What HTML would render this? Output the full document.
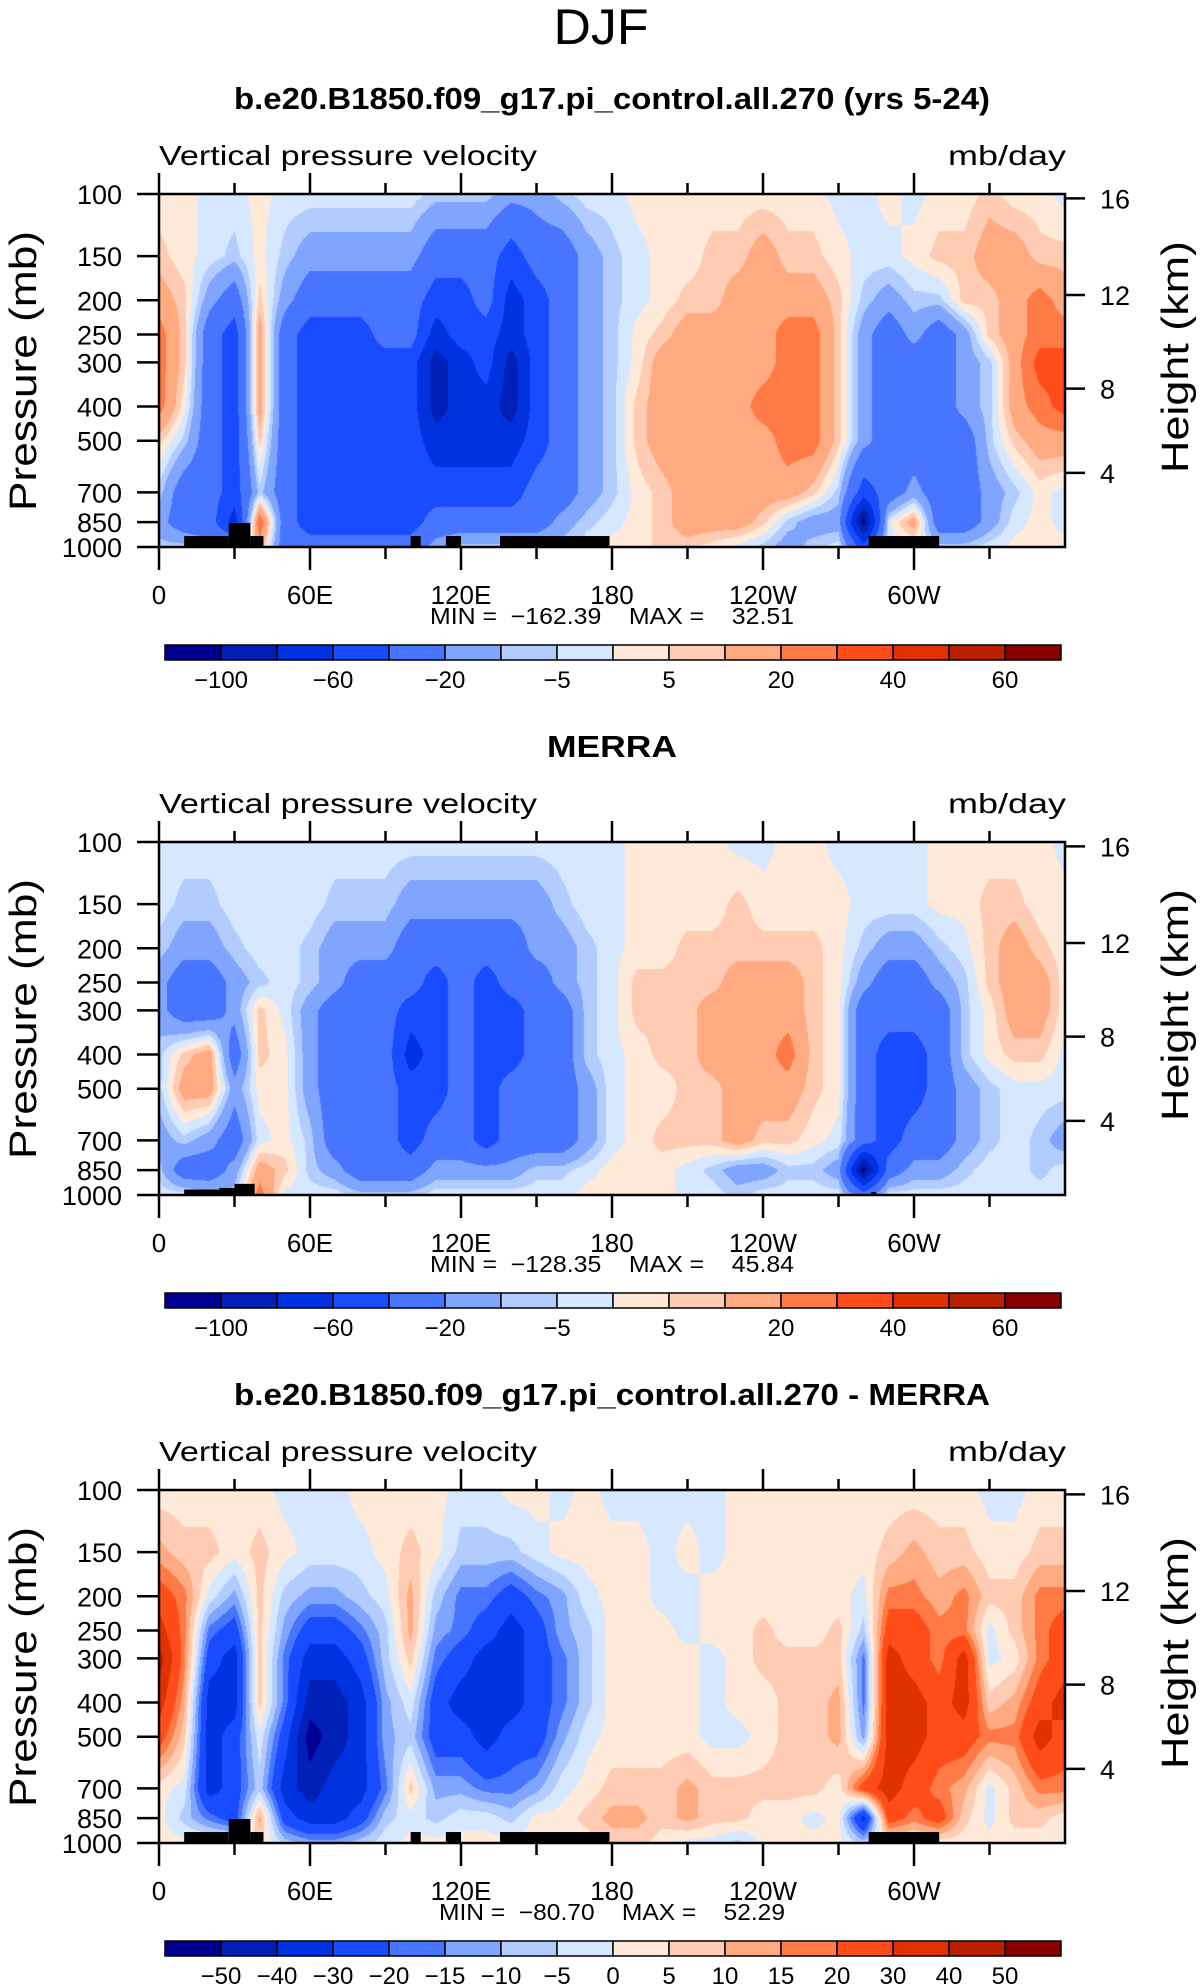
<!DOCTYPE html>
<html><head><meta charset="utf-8">
<style>
html,body{margin:0;padding:0;background:#fff;}
#wrap{position:relative;width:1203px;height:1987px;overflow:hidden;}
canvas{position:absolute;}
svg{position:absolute;left:0;top:0;}
text{font-family:"Liberation Sans",sans-serif;fill:#000;}
</style></head>
<body>
<div id="wrap">
<svg id="svg" width="1203" height="1987" viewBox="0 0 1203 1987">
<text x="601" y="44" font-size="50" text-anchor="middle" textLength="95" lengthAdjust="spacingAndGlyphs" font-weight="300">DJF</text>
</svg>
</div>
<script>
// ---------- data ----------
const levels = [100,150,200,250,300,400,500,700,850,1000];
const lons = [0,10,20,30,40,50,60,70,80,90,100,110,120,130,140,150,160,170,180,190,200,210,220,230,240,250,260,270,280,290,300,310,320,330,340,350,360];
const xTickLons = [0,60,120,180,240,300];
const xTickLabels = ["0","60E","120E","180","120W","60W"];
const heightTicksKm = [4,8,12,16];
const binsAbs = [-100,-80,-60,-40,-20,-10,-5,0,5,10,20,30,40,50,60];
const binsDiff = [-50,-40,-30,-20,-15,-10,-5,0,5,10,15,20,30,40,50];
const colors = ["#000090","#0020b8","#0032e0","#1a4cff","#4775ff","#80a5ff","#b3ccff","#d5e8ff","#ffe9d9","#ffcbb3","#ffaa80","#ff7a45","#ff4d1a","#e03200","#b82000","#8a0000"];

// Model (panel 1)
const m100 = [2,2,-2,-2,2,-2,-2,-2,-2,-2,-2,-7,-7,-7,-15,-15,-7,-2,-2,2,2,2,2,2,2,2,2,-2,-2,2,-2,2,2,7,2,2,-2];
const m150 = [7,2,-2,-7,2,-7,-15,-15,-15,-15,-15,-30,-30,-30,-50,-30,-30,-15,-7,-2,2,2,7,7,15,7,7,2,-2,-2,2,7,7,15,15,7,7];
const m200 = [15,7,-15,-30,7,-15,-30,-30,-30,-30,-30,-50,-50,-30,-70,-50,-30,-15,-7,-2,2,7,7,15,15,15,15,7,-7,-15,-7,-7,7,7,15,25,15];
const m250 = [25,7,-30,-50,15,-30,-50,-50,-50,-30,-30,-70,-50,-50,-70,-50,-30,-15,-7,2,7,15,15,15,15,25,25,7,-15,-30,-15,-30,-15,7,15,25,25];
const m300 = [25,7,-30,-50,15,-30,-50,-50,-50,-50,-50,-90,-70,-50,-90,-50,-30,-15,-7,2,15,15,15,15,15,25,25,7,-15,-30,-30,-30,-15,-7,15,35,35];
const m400 = [25,2,-30,-50,15,-30,-50,-50,-50,-50,-50,-90,-70,-70,-90,-50,-30,-15,-7,7,15,15,15,15,25,25,25,7,-15,-30,-30,-30,-15,-7,15,25,35];
const m500 = [7,-7,-30,-50,7,-30,-50,-50,-50,-50,-50,-70,-70,-70,-70,-50,-30,-15,-7,7,15,15,15,15,15,25,25,7,-15,-30,-30,-30,-30,-7,7,15,15];
const m700 = [-7,-30,-30,-50,-7,-30,-50,-50,-50,-50,-50,-50,-50,-50,-50,-30,-30,-15,-7,2,7,15,15,15,15,15,7,-7,-50,-30,-15,-30,-30,-15,-7,2,-2];
const m850 = [-15,-30,-30,-70,30,-30,-50,-50,-50,-50,-50,-30,-30,-30,-30,-30,-15,-7,-2,2,7,15,15,15,7,-7,-15,-15,-110,-2,15,-30,-30,-15,-2,2,-2];
const m1000 = [-7,-7,-15,-15,15,-30,-30,-30,-30,-30,-30,-15,-7,-7,-7,-7,-7,-2,2,2,7,7,2,-2,-7,-15,-7,-2,-50,-2,-2,-7,-7,-2,2,2,2];
const modelRows = [m100,m150,m200,m250,m300,m400,m500,m700,m850,m1000];

// MERRA (panel 2)
const r100 = [-2,-2,-2,-2,-2,-2,-2,-2,-2,-2,-2,-2,-2,-2,-2,-2,-2,-2,-2,2,2,2,2,-2,-2,2,2,-2,-2,-2,-2,2,2,2,2,2,-2];
const r150 = [-2,-7,-7,-2,-2,-2,-2,-7,-7,-7,-15,-15,-15,-15,-15,-15,-7,-2,-2,2,2,2,2,7,2,2,2,2,-2,-2,-2,2,2,7,7,2,2];
const r200 = [-7,-15,-15,-7,-2,-2,-7,-15,-15,-15,-30,-30,-30,-30,-30,-15,-15,-7,-2,2,2,7,7,7,7,7,7,2,-7,-15,-15,-7,-2,7,15,7,2];
const r250 = [-15,-30,-30,-15,-7,-2,-7,-15,-30,-30,-30,-50,-30,-50,-30,-30,-15,-7,-2,7,7,7,7,15,15,15,7,2,-15,-30,-30,-15,-7,7,15,15,2];
const r300 = [-15,-30,-30,-15,7,-2,-15,-30,-30,-30,-50,-50,-30,-50,-50,-30,-30,-7,-2,7,7,7,15,15,15,15,7,2,-30,-30,-30,-30,-7,2,15,15,2];
const r400 = [-7,7,15,-30,7,2,-15,-30,-30,-30,-70,-50,-30,-50,-50,-30,-30,-7,-2,2,7,7,15,15,15,25,7,2,-30,-50,-50,-30,-7,2,7,7,-2];
const r500 = [-7,15,15,-15,2,2,-15,-30,-30,-30,-50,-50,-30,-50,-30,-30,-30,-15,-2,2,2,7,7,15,15,15,7,2,-30,-50,-50,-30,-15,-7,-2,-2,-2];
const r700 = [-15,-7,-15,-30,-2,2,-7,-30,-30,-30,-50,-30,-30,-50,-30,-30,-30,-15,-2,2,7,7,7,15,7,7,2,-2,-30,-50,-30,-30,-15,-7,-2,-7,-15];
const r850 = [-7,-30,-30,-15,15,7,-7,-15,-30,-30,-30,-15,-15,-15,-15,-7,-7,-2,2,2,2,-2,-7,-15,-15,-7,-7,-15,-110,-30,-15,-15,-7,-2,-2,-7,-2];
const r1000 = [-2,-2,-7,-7,25,-2,-2,-2,-7,-7,-7,-2,-2,-2,-2,-2,-2,2,2,2,2,-2,-2,-7,-2,-2,-2,-2,-30,-2,-2,-2,-2,-2,-2,-2,-2];
const merraRows = [r100,r150,r200,r250,r300,r400,r500,r700,r850,r1000];

// Difference (panel 3)
const d100 = [2,2,2,2,2,-2,-2,-2,2,2,2,2,-2,-2,2,2,-2,2,-2,-2,-2,-2,-2,2,2,2,2,2,2,2,2,2,2,-2,-2,2,2];
const d150 = [12,7,7,2,7,2,-2,-2,-2,2,7,2,-7,-7,-7,-2,2,2,2,2,-2,2,-2,2,2,2,2,2,2,7,12,7,7,2,2,7,7];
const d200 = [25,17,-2,-12,7,-7,-12,-12,-7,-2,12,-7,-17,-17,-25,-17,-12,-2,2,2,-2,-2,2,2,2,2,2,2,-2,17,17,12,17,7,7,17,17];
const d250 = [35,17,-17,-25,7,-12,-25,-25,-17,-7,12,-12,-17,-25,-35,-25,-12,-7,2,2,2,-2,2,2,7,2,2,7,-7,25,25,17,17,-2,7,17,25];
const d300 = [45,17,-25,-35,7,-17,-35,-35,-25,-7,7,-17,-25,-35,-35,-25,-17,-7,2,2,2,2,-2,2,7,7,7,7,-17,35,25,17,35,-2,2,17,25];
const d400 = [35,12,-35,-35,7,-17,-45,-45,-35,-12,-2,-25,-35,-35,-35,-25,-17,-7,2,2,2,2,-2,2,2,7,7,12,-17,35,35,25,35,7,12,25,35];
const d500 = [25,7,-35,-25,-2,-25,-55,-45,-35,-12,-7,-25,-25,-35,-25,-25,-12,-2,2,2,2,2,-2,-2,2,7,7,12,-12,35,35,25,25,17,17,35,25];
const d700 = [2,-2,-35,-25,-7,-35,-45,-35,-35,-17,7,-12,-12,-17,-17,-12,-2,2,7,7,7,12,7,7,7,7,7,2,25,35,25,17,12,-2,7,17,17];
const d850 = [2,-7,-17,-25,12,-25,-35,-35,-25,-7,-2,-7,-2,-2,-7,2,2,7,12,12,7,12,7,7,2,2,-2,2,-35,25,17,25,7,-2,7,7,2];
const d1000 = [2,2,2,2,7,-7,-12,-12,-7,-2,2,2,2,2,2,2,2,2,7,7,2,-2,-2,-7,2,2,2,2,-7,2,2,2,2,2,2,2,2];
const diffRows = [d100,d150,d200,d250,d300,d400,d500,d700,d850,d1000];

// Topography blocks: [lonStart, lonEnd, topPressure]
const topoModel = [[10,27.7,931],[27.7,36.3,855],[36.3,41.5,931],[100,104,931],[114,120,931],[135.5,179,931],[282,310,931]];
const topoMerra = [[10,24,965],[24,30,955],[30,36,930],[36,38,930],[283,285,980]];

const mins = ["MIN =  \u2212162.39    MAX =    32.51","MIN =  \u2212128.35    MAX =    45.84","MIN =  \u221280.70    MAX =    52.29"];

// ---------- geometry ----------
const PL = 159, PR = 1065, PT = 194, PB = 547;
const NS = "http://www.w3.org/2000/svg";
const svg = document.getElementById('svg');
const wrap = document.getElementById('wrap');
function xOf(lon){ return PL + (PR-PL)*lon/360; }
function yOf(p, dy){ return dy + PT + (PB-PT)*Math.log(p/100)/Math.log(10); }
function pOfKm(z){ const m=z*1000; return m<=11000 ? 1013.25*Math.pow(1-2.25577e-5*m,5.25588) : 226.32*Math.exp(-(m-11000)/6341.6); }

function mk(tag, attrs, parent){
  const e = document.createElementNS(NS, tag);
  for (const k in attrs) e.setAttribute(k, attrs[k]);
  (parent||svg).appendChild(e);
  return e;
}
function txt(s, attrs, name){
  const e = mk('text', attrs);
  e.textContent = s;
  
  
  return e;
}

function sample(rows, lon, p){
  let fx = lon/10; let i = Math.min(35, Math.floor(fx)); let tx = fx - i;
  const lp = Math.log(p);
  let j = 0;
  while (j < levels.length-2 && Math.log(levels[j+1]) < lp) j++;
  const l0 = Math.log(levels[j]), l1 = Math.log(levels[j+1]);
  let ty = (lp - l0)/(l1 - l0); ty = Math.max(0, Math.min(1, ty));
  const a = rows[j][i]*(1-tx) + rows[j][i+1]*tx;
  const b = rows[j+1][i]*(1-tx) + rows[j+1][i+1]*tx;
  return a*(1-ty) + b*ty;
}
function classOf(v, bins){ let c=0; while (c<bins.length && v>=bins[c]) c++; return c; }
function hexRgb(h){ return [parseInt(h.substr(1,2),16),parseInt(h.substr(3,2),16),parseInt(h.substr(5,2),16)]; }
const rgb = colors.map(hexRgb);

function drawPanel(k, dy, rows, bins, topo, title, titleLen, allLabels){
  const w = PR-PL, h = PB-PT;
  const cv = document.createElement('canvas');
  cv.width = w; cv.height = h;
  cv.style.left = PL+'px'; cv.style.top = (PT+dy)+'px';
  
  
  wrap.insertBefore(cv, svg);
  const ctx = cv.getContext('2d');
  const img = ctx.createImageData(w, h);
  for (let y=0; y<h; y++){
    const p = 100*Math.pow(10, (y+0.5)/h);
    for (let x=0; x<w; x++){
      const lon = 360*(x+0.5)/w;
      const c = rgb[classOf(sample(rows, lon, p), bins)];
      const o = (y*w+x)*4;
      img.data[o]=c[0]; img.data[o+1]=c[1]; img.data[o+2]=c[2]; img.data[o+3]=255;
    }
  }
  ctx.putImageData(img, 0, 0);
  for (const t of topo){
    const r = mk('rect', {x:xOf(t[0]), y:yOf(t[2],dy), width:xOf(t[1])-xOf(t[0]), height:yOf(1000,dy)-yOf(t[2],dy), fill:'#000'});
    
    
  }
  const fr = mk('rect', {x:PL, y:PT+dy, width:PR-PL, height:PB-PT, fill:'none', stroke:'#000', 'stroke-width':2.5});
  
  
  for (let lon=0; lon<360; lon+=30){
    const major = lon%60===0;
    const x = xOf(lon);
    mk('line', {x1:x, x2:x, y1:PB+dy, y2:PB+dy+(major?23:12), stroke:'#000','stroke-width':2.5});
    mk('line', {x1:x, x2:x, y1:PT+dy, y2:PT+dy-(major?21:11), stroke:'#000','stroke-width':2.5});
  }
  xTickLons.forEach((lon,i)=>{
    txt(xTickLabels[i], {x:xOf(lon), y:PB+dy+57, 'font-size':26, 'text-anchor':'middle'}, 'x-tick-label');
  });
  levels.forEach(p=>{
    const y = yOf(p,dy);
    mk('line', {x1:PL-22, x2:PL, y1:y, y2:y, stroke:'#000','stroke-width':2.5});
    txt(String(p), {x:122, y:y+10, 'font-size':27, 'text-anchor':'end'}, 'y-tick-label');
  });
  heightTicksKm.forEach(z=>{
    const y = yOf(pOfKm(z),dy);
    mk('line', {x1:PR, x2:PR+20, y1:y, y2:y, stroke:'#000','stroke-width':2.5});
    txt(String(z), {x:1100, y:y+10, 'font-size':27, 'text-anchor':'start'}, 'height-tick-label');
  });
  txt('Pressure  (mb)', {x:0, y:0, 'font-size':38, 'text-anchor':'middle', transform:'translate(36,'+(371+dy)+') rotate(-90)', textLength:280, lengthAdjust:'spacingAndGlyphs'}, 'y-axis-title');
  txt('Height  (km)', {x:0, y:0, 'font-size':38, 'text-anchor':'middle', transform:'translate(1188,'+(357+dy)+') rotate(-90)', textLength:232, lengthAdjust:'spacingAndGlyphs'}, 'right-axis-title');
  txt('Vertical pressure velocity', {x:159, y:165+dy, 'font-size':28, textLength:378, lengthAdjust:'spacingAndGlyphs'}, 'variable-label');
  txt('mb/day', {x:1066, y:165+dy, 'font-size':28, 'text-anchor':'end', textLength:118, lengthAdjust:'spacingAndGlyphs'}, 'units-label');
  txt(title, {x:612, y:109+dy, 'font-size':31, 'font-weight':'bold', 'text-anchor':'middle', textLength:titleLen, lengthAdjust:'spacingAndGlyphs'}, 'panel-title');
  txt(mins[k], {x:612, y:624+dy, 'font-size':23, 'text-anchor':'middle', textLength:(k===2?346:364), lengthAdjust:'spacingAndGlyphs', style:'white-space:pre'}, 'min-max-label');
  const cbL=165, cbR=1061, cbT=645+dy, cbH=15, bw=(cbR-cbL)/16;
  colors.forEach((c,i)=>{
    const r = mk('rect', {x:cbL+i*bw, y:cbT, width:bw, height:cbH, fill:c, stroke:'#000','stroke-width':1.5});
    
    
  });
  bins.forEach((b,i)=>{
    if (!allLabels && i%2!==0) return;
    const s = (b<0?'\u2212':'')+Math.abs(b);
    txt(s, {x:cbL+(i+1)*bw, y:cbT+43, 'font-size':24, 'text-anchor':'middle'}, 'colorbar-label');
  });
}

drawPanel(0, 0, modelRows, binsAbs, topoModel, 'b.e20.B1850.f09_g17.pi_control.all.270 (yrs 5-24)', 756, false);
drawPanel(1, 648, merraRows, binsAbs, topoMerra, 'MERRA', 130, false);
drawPanel(2, 1296, diffRows, binsDiff, topoModel, 'b.e20.B1850.f09_g17.pi_control.all.270 - MERRA', 756, true);
</script>
</body></html>
